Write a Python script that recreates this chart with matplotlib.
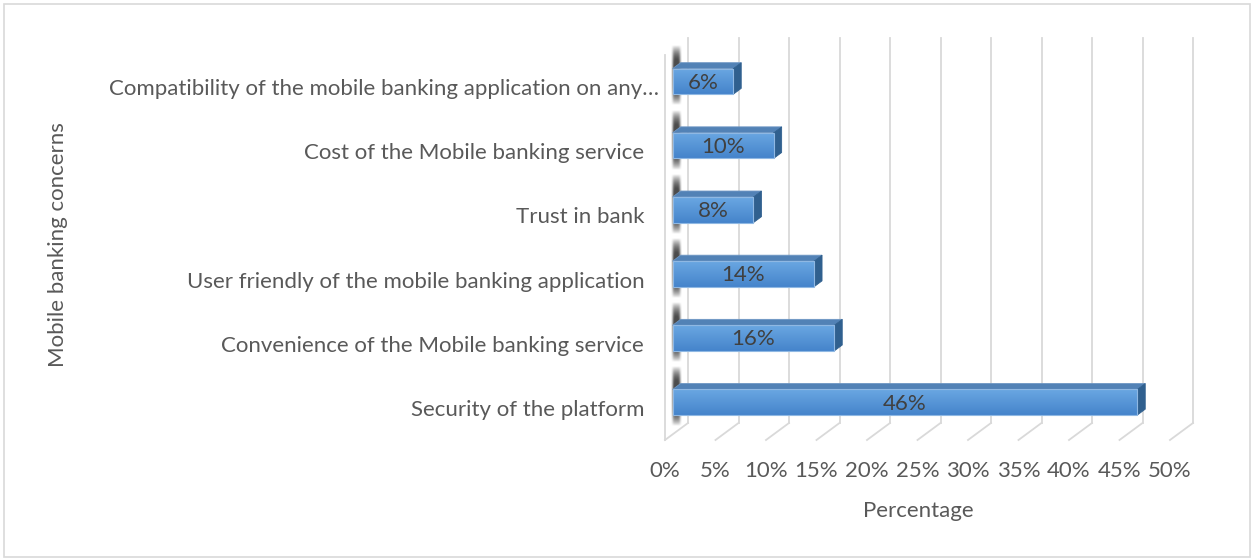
import numpy as np
import matplotlib
matplotlib.use("Agg")
import matplotlib.pyplot as plt
from matplotlib.patches import Rectangle, Polygon
from matplotlib.colors import LinearSegmentedColormap
from matplotlib.transforms import ScaledTranslation

# ---- data ----
categories = [
    "Security of the platform",
    "Convenience of the Mobile banking service",
    "User friendly of the mobile banking application",
    "Trust in bank",
    "Cost of the Mobile banking service",
    "Compatibility of the mobile banking application on any\u2026",
]
values = [46, 16, 14, 8, 10, 6]
x_ticks = [0, 5, 10, 15, 20, 25, 30, 35, 40, 45, 50]
x_tick_labels = [f"{t}%" for t in x_ticks]
x_title = "Percentage"
y_title = "Mobile banking concerns"

plt.rcParams["font.family"] = ["Lato", "DejaVu Sans"]
FS = 16

W, H = 1253, 559
fig = plt.figure(figsize=(W / 100, H / 100), dpi=100)
fig.patch.set_facecolor("white")

# chart frame
fig.patches.append(Rectangle((4 / W, 2 / H), 1246 / W, 553 / H, transform=fig.transFigure,
                             fill=False, edgecolor="#d9d9d9", linewidth=1.2))

# front plane of the 3-D plot area
ax = fig.add_axes([665 / W, 1 - 440 / H, 505 / W, 385 / H])
ax.set_xlim(0, 50)
ax.set_ylim(-0.5, len(categories) - 0.5)
ax.patch.set_visible(False)
for s in ax.spines.values():
    s.set_visible(False)

# depth vector (pixels) converted into data units
p0 = ax.transData.transform((0, 0))
px_x = ax.transData.transform((1, 0))[0] - p0[0]
px_y = ax.transData.transform((0, 1))[1] - p0[1]
DX, DY = 23 / px_x, 17 / px_y
d0, d1 = 0.33, 0.68          # depth range occupied by the bars
bh = 0.4                     # bar thickness (category units)
ymin, ymax = -0.5, len(categories) - 0.5

grid_c = "#d9d9d9"
grid_lw = 1.3

# back wall gridlines and floor diagonals
for t in x_ticks:
    ax.plot([t + DX, t + DX], [ymin + DY, ymax + DY], color=grid_c, lw=grid_lw,
            clip_on=False, zorder=1)
    ax.plot([t, t + DX], [ymin, ymin + DY], color=grid_c, lw=grid_lw,
            clip_on=False, zorder=1)
# left side wall front edge
ax.plot([0, 0], [ymin, ymax], color=grid_c, lw=grid_lw, clip_on=False, zorder=1)

# shadows cast by the bars on the side wall
yy = np.linspace(-1, 1, 200)
xx = np.linspace(-1, 1, 40)
prof_y = np.clip(1.0 - np.abs(yy) ** 3, 0, 1)
prof_x = np.exp(-(xx / 0.75) ** 4)
alpha = np.clip(np.outer(prof_y, prof_x) * 1.05, 0, 0.9)
shadow = np.zeros((len(yy), len(xx), 4))
shadow[..., :3] = 0.22
shadow[..., 3] = alpha
for i in range(len(categories)):
    dm = (d0 + d1) / 2
    ax.imshow(shadow, extent=(d0 * DX - 0.15, d1 * DX + 0.1,
                              i - 0.2 - 0.22 + dm * DY, i + 0.2 + 0.3 + dm * DY),
              aspect="auto", interpolation="bilinear", zorder=2, clip_on=False)

# bars
front_cmap = LinearSegmentedColormap.from_list("front", ["#4584cb", "#6aa7e2"])
grad = np.linspace(0, 1, 64).reshape(-1, 1)
for i, v in enumerate(values):
    xf0, xb0 = d0 * DX, d1 * DX
    yf_lo, yf_hi = i - bh / 2 + d0 * DY, i + bh / 2 + d0 * DY
    yb_lo, yb_hi = i - bh / 2 + d1 * DY, i + bh / 2 + d1 * DY
    # top face
    top = Polygon([(xf0, yf_hi), (xf0 + v, yf_hi), (xb0 + v, yb_hi), (xb0, yb_hi)],
                  closed=True, facecolor="#5282b6", edgecolor="#6d96c4", lw=0.6,
                  zorder=3, clip_on=False)
    ax.add_patch(top)
    # right side face
    side = Polygon([(xf0 + v, yf_lo), (xb0 + v, yb_lo), (xb0 + v, yb_hi), (xf0 + v, yf_hi)],
                   closed=True, facecolor="#30608f", edgecolor="#30608f", lw=0.6,
                   zorder=3, clip_on=False)
    ax.add_patch(side)
    # front face with vertical gradient
    front = Rectangle((xf0, yf_lo), v, bh, facecolor="none", edgecolor="#8fb8e3",
                      lw=0.8, zorder=5, clip_on=False)
    ax.add_patch(front)
    img = ax.imshow(grad, extent=(xf0, xf0 + v, yf_lo, yf_hi), origin="lower",
                    cmap=front_cmap, aspect="auto", zorder=4, interpolation="bilinear")
    img.set_clip_path(front)
    ax.text(xf0 + v / 2, (yf_lo + yf_hi) / 2 - 0.02, f"{v}%", ha="center", va="center",
            fontsize=FS, color="#404040", zorder=6)

ax.set_xlim(0, 50)
ax.set_ylim(ymin, ymax)

# axes ticks
ax.set_xticks(x_ticks)
ax.set_xticklabels(x_tick_labels, fontsize=FS, color="#595959")
ax.set_yticks(range(len(categories)))
ax.set_yticklabels(categories, fontsize=FS, color="#595959")
ax.tick_params(axis="x", length=0, pad=15)
ax.tick_params(axis="y", length=0, pad=15)
# the truncated label sits a little further right
last = ax.get_yticklabels()[-1]
last.set_transform(last.get_transform() + ScaledTranslation(15 / 100, 0, fig.dpi_scale_trans))

# axis titles
fig.text(918 / W, 1 - 511 / H, x_title, ha="center", va="center",
         fontsize=FS, color="#595959")
fig.text(58 / W, 1 - 245 / H, y_title, ha="center", va="center", rotation=90,
         fontsize=FS, color="#595959")

fig.savefig("out.png", dpi=100, facecolor="white")
